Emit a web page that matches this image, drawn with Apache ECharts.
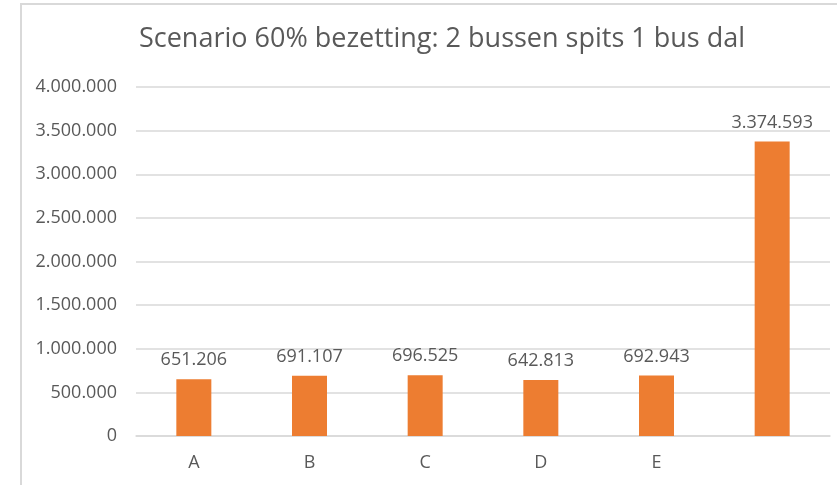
<!DOCTYPE html>
<html>
<head>
<meta charset="utf-8">
<script src="https://cdn.jsdelivr.net/npm/echarts@6/dist/echarts.min.js"></script>
<style>
    html, body { margin: 0; padding: 0; background: #fff; }
    #chart { width: 837px; height: 485px; }
</style>
</head>
<body>
<div id="chart"></div>
<script>
// --- gegevens ---
const categories = ['A', 'B', 'C', 'D', 'E', ''];
const values = [651206, 691107, 696525, 642813, 692943, 3374593];
const titleText = 'Scenario 60% bezetting: 2 bussen spits 1 bus dal';

const textColor = '#595959';
const gridColor = '#D9D9D9';
const barColor = '#ED7D31';
const fontFamily = 'Open Sans, Noto Sans, sans-serif';

// 1234567 -> 1.234.567
function formatNumber(v) {
    return String(Math.round(v)).replace(/\B(?=(\d{3})+(?!\d))/g, '.');
}

const chart = echarts.init(document.getElementById('chart'));

const option = {
    animation: false,
    backgroundColor: '#fff',
    graphic: [{
        type: 'rect',
        shape: { x: 21, y: 4, width: 900, height: 600 },
        style: { fill: 'none', stroke: gridColor, lineWidth: 2 },
        silent: true
    }],
    title: {
        text: titleText,
        left: 437,
        textAlign: 'center',
        top: 21,
        textStyle: {
            color: textColor,
            fontSize: 27,
            fontWeight: 'normal',
            fontFamily: fontFamily
        }
    },
    grid: { left: 136, right: 7, top: 87, bottom: 49 },
    xAxis: {
        type: 'category',
        data: categories,
        axisLine: { lineStyle: { color: gridColor, width: 1.5 } },
        axisTick: { show: false },
        axisLabel: {
            color: textColor,
            fontSize: 18,
            fontFamily: fontFamily,
            margin: 18
        }
    },
    yAxis: {
        type: 'value',
        min: 0,
        max: 4000000,
        interval: 500000,
        axisLine: { show: false },
        axisTick: { show: false },
        splitLine: { lineStyle: { color: gridColor, width: 1.5 } },
        axisLabel: {
            color: textColor,
            fontSize: 18,
            fontFamily: fontFamily,
            margin: 19,
            formatter: formatNumber
        }
    },
    series: [{
        type: 'bar',
        data: values,
        barWidth: 35,
        itemStyle: { color: barColor },
        label: {
            show: true,
            position: 'top',
            distance: 10,
            color: textColor,
            fontSize: 18,
            fontFamily: fontFamily,
            formatter: (p) => formatNumber(p.value)
        }
    }]
};

chart.setOption(option);
</script>
</body>
</html>
